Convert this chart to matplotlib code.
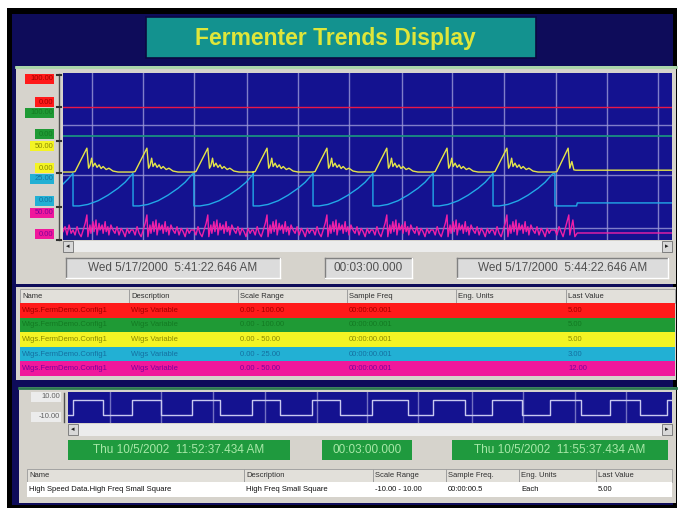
import matplotlib.pyplot as plt
import matplotlib.patches as mpatches
import numpy as np

# ---- data ----
title = 'Fermenter Trends Display'

# upper trend, time in seconds over a 3 minute window
cycle_starts = [2.96, 20.7, 38.7, 56.2, 73.9, 91.6, 109.4, 127.1]
last_start = 145.4

red_t = [0, 180]
red_v = [79.6, 79.6]
green_t = [0, 180]
green_v = [62.3, 62.3]

yellow_pre_t = [0, 2.9]
yellow_pre_v = [40.7, 40.7]
yellow_cyc_t = [0, 0.6, 4.1, 4.6, 5.0, 5.5, 5.9, 6.5, 7.1, 7.7, 8.3, 8.9, 9.8, 10.6, 11.8, 13.3, 17.6]
yellow_cyc_v = [40.7, 41.0, 55.0, 43.0, 44.5, 49.0, 44.0, 46.0, 43.5, 45.0, 42.8, 44.0, 42.2, 43.0, 41.3, 40.7, 40.7]
yellow_tail_t = [0, 0.6, 3.9, 4.4, 5.0, 5.6, 6.2, 34.6]
yellow_tail_v = [40.7, 41.0, 55.0, 43.0, 47.0, 42.0, 41.8, 41.8]

cyan_pre_t = [0, 1.5, 2.9]
cyan_pre_v = [33.5, 36.5, 39.8]
cyan_cyc_t = [0, 0, 1.8, 4.4, 7.4, 10.3, 13.3, 15.4, 17.6]
cyan_cyc_v = [39.8, 20.4, 20.4, 21.3, 23.5, 26.8, 31.0, 34.6, 39.6]
cyan_tail_t = [0, 0, 6.4, 6.6, 34.6]
cyan_tail_v = [39.8, 20.4, 20.4, 22.2, 22.2]

magenta_pre_t = [0, 0.6, 1.2, 1.8, 2.4]
magenta_pre_v = [5, 8, 3, 9, 4]
magenta_cyc_t = [0, 0.6, 1.2, 1.8, 2.4, 3.0, 3.6, 4.1, 4.4, 5.0, 5.3, 5.9, 6.2, 6.8, 7.1, 7.7, 8.0,
                 8.6, 8.9, 9.5, 9.8, 10.3, 10.6, 11.2, 11.8, 12.4, 13.0, 13.6, 14.2, 14.8, 15.4,
                 16.0, 16.6, 17.1]
magenta_cyc_v = [6, 3, 8, 4, 2, 6, 10, 15, 2, 9, 4, 11, 5, 12, 3, 10, 6,
                 9, 4, 11, 5, 8, 3, 9, 6, 4, 8, 3, 7, 5, 2, 7, 4, 6]
magenta_tail_t = [0, 0.6, 1.2, 2.4, 4.1, 4.4, 5.3, 5.9, 6.6, 34.6]
magenta_tail_v = [6, 3, 8, 2, 15, 3, 12, 2, 4.2, 4.2]

pen_colors = ['#ff1a1a', '#1f9a35', '#f4f424', '#22b0d4', '#f0189c']
pen_text = ['#a00000', '#137a22', '#8a8a00', '#1570a0', '#80009a']
line_colors = ['#e81848', '#1a9080', '#e4e44a', '#22a8e8', '#f020a8']

pen_labels = ['100.00', '0.00', '100.00', '0.00', '50.00', '0.00', '25.00', '0.00', '50.00', '0.00']

upper_start = 'Wed 5/17/2000  5:41:22.646 AM'
upper_span = '00:03:00.000'
upper_end = 'Wed 5/17/2000  5:44:22.646 AM'

columns = ['Name', 'Description', 'Scale Range', 'Sample Freq', 'Eng. Units', 'Last Value']
pen_names = ['Wigs.FermDemo.Config1'] * 5
pen_desc = ['Wigs Variable'] * 5
pen_range = ['0.00 - 100.00', '0.00 - 100.00', '0.00 - 50.00', '0.00 - 25.00', '0.00 - 50.00']
pen_freq = ['00:00:00.001'] * 5
pen_units = [''] * 5
pen_last = ['5.00', '5.00', '5.00', '3.00', '12.00']

# lower trend: square wave
sq_t = [0, 1.5, 10.4, 19.1, 27.7, 37.0, 45.3, 54.8, 63.2, 72.7, 81.1, 90.6, 101.3,
        108.8, 118.3, 126.4, 135.3, 143.6, 152.9, 161.5, 170.5, 178.5, 180]
sq_v = [-10, 10, -10, 10, -10, 10, -10, 10, -10, 10, -10, 10, -10,
        10, -10, 10, -10, 10, -10, 10, -10, 10, 10]
lower_labels = ['10.00', '-10.00']
lower_start = 'Thu 10/5/2002  11:52:37.434 AM'
lower_span = '00:03:00.000'
lower_end = 'Thu 10/5/2002  11:55:37.434 AM'
lower_columns = ['Name', 'Description', 'Scale Range', 'Sample Freq.', 'Eng. Units', 'Last Value']
lower_row = ['High Speed Data.High Freq Small Square', 'High Freq Small Square',
             '-10.00 - 10.00', '00:00:00.5', 'Each', '5.00']

# ---- layout helpers (pixels) ----
W, H = 682, 508
plt.rcParams['font.family'] = ['Liberation Sans', 'DejaVu Sans']
NAVY = '#0e0c5a'
PLOT = '#141290'
GRAY = '#d6d3cc'
GRID = '#9c9ad8'

fig = plt.figure(figsize=(W / 100, H / 100), dpi=100)
bg = fig.add_axes([0, 0, 1, 1])
bg.set_xlim(0, W)
bg.set_ylim(H, 0)
bg.axis('off')


def box(x0, y0, x1, y1, fc, ec='none', lw=0, z=1):
    bg.add_patch(mpatches.Rectangle((x0, y0), x1 - x0, y1 - y0, facecolor=fc,
                                    edgecolor=ec, linewidth=lw, zorder=z))


def sunken(x0, y0, x1, y1, fc, z=2):
    box(x0, y0, x1, y1, fc, z=z)
    bg.plot([x0, x1], [y0, y0], color='#808080', lw=1, zorder=z + 1)
    bg.plot([x0, x0], [y0, y1], color='#808080', lw=1, zorder=z + 1)
    bg.plot([x0, x1], [y1, y1], color='#ffffff', lw=1, zorder=z + 1)
    bg.plot([x1, x1], [y0, y1], color='#ffffff', lw=1, zorder=z + 1)


def px_axes(x0, y0, x1, y1):
    a = fig.add_axes([x0 / W, 1 - y1 / H, (x1 - x0) / W, (y1 - y0) / H])
    a.set_facecolor(PLOT)
    a.set_xticks([])
    a.set_yticks([])
    for s in a.spines.values():
        s.set_visible(False)
    return a


def cycles(pre_t, pre_v, cyc_t, cyc_v, tail_t, tail_v):
    t, v = list(pre_t), list(pre_v)
    for s in cycle_starts:
        t += [s + o for o in cyc_t]
        v += list(cyc_v)
    t += [last_start + o for o in tail_t]
    v += list(tail_v)
    return t, v


# ---- frame ----
box(7, 8, 677, 508, '#000000')
box(12, 14, 673, 505, NAVY)
box(146, 17, 536, 58, '#13928f', ec='#0a0a40', lw=1.2, z=2)
bg.text(335, 38, title, ha='center', va='center', fontsize=16.5, fontweight='bold',
        color='#dfe63a', zorder=3)

# ---- upper panel ----
box(16, 66, 676, 284, GRAY, z=2)
bg.plot([16, 676], [66.5, 66.5], color='#a9d6a9', lw=2, zorder=3)

ax = px_axes(63, 73, 672, 240)
ax.set_xlim(0, 180)
ax.set_ylim(0, 100)
for g in [8.6, 23.6, 38.7, 54.4, 69.5, 84.6, 100.3, 115.1, 130.2, 145.8, 160.9, 175.9]:
    ax.axvline(g, color=GRID, lw=1, alpha=0.8)
for g in [68.9, 38.9, 7.2]:
    ax.axhline(g, color=GRID, lw=1, alpha=0.8)
ax.plot(red_t, red_v, color=line_colors[0], lw=1)
ax.plot(green_t, green_v, color=line_colors[1], lw=1.3)
yt, yv = cycles(yellow_pre_t, yellow_pre_v, yellow_cyc_t, yellow_cyc_v, yellow_tail_t, yellow_tail_v)
ax.plot(yt, yv, color=line_colors[2], lw=1)
ct, cv = cycles(cyan_pre_t, cyan_pre_v, cyan_cyc_t, cyan_cyc_v, cyan_tail_t, cyan_tail_v)
ax.plot(ct, cv, color=line_colors[3], lw=1)
mt, mv = cycles(magenta_pre_t, magenta_pre_v, magenta_cyc_t, magenta_cyc_v, magenta_tail_t, magenta_tail_v)
ax.plot(mt, mv, color=line_colors[4], lw=1)

# pen scale labels down the left side
label_rows = [(74, 84), (97, 107), (108, 118), (129, 139), (141, 151),
              (163, 173), (174, 184), (196, 206), (208, 218), (229, 239)]
for i, (txt, (y0, y1)) in enumerate(zip(pen_labels, label_rows)):
    pen = i // 2
    x0 = 53 - 4.6 * len(txt)
    box(x0, y0, 54, y1, pen_colors[pen], z=3)
    bg.text(53, (y0 + y1) / 2, txt, ha='right', va='center', fontsize=5.5,
            color=pen_text[pen], zorder=4)
bg.plot([59, 59], [74, 240], color='#505050', lw=1, zorder=3)
for ty in [75, 107, 141, 173, 207, 240]:
    bg.plot([57, 61], [ty, ty], color='#303030', lw=1.5, zorder=3)

# scrollbar
box(63, 241, 672, 252, '#ececec', z=3)
for xa, arrow in [(63, '\u25c2'), (662, '\u25b8')]:
    box(xa, 241, xa + 10, 252, '#d8d8d8', ec='#707070', lw=0.6, z=4)
    bg.text(xa + 5, 246.5, arrow, ha='center', va='center', fontsize=5, color='#202020', zorder=5)

for (x0, x1), txt in zip([(66, 280), (325, 412), (457, 668)], [upper_start, upper_span, upper_end]):
    sunken(x0, 258, x1, 278, '#dcdcdc', z=3)
    bg.text((x0 + x1) / 2, 268, txt, ha='center', va='center', fontsize=8.5, color='#505050', zorder=5)

# ---- upper table ----
box(16, 287, 676, 380, GRAY, z=2)
col_x = [20, 129, 238, 347, 456, 566, 675]
for i, c in enumerate(columns):
    box(col_x[i], 289, col_x[i + 1], 303, '#e2e0da', ec='#9a9a9a', lw=0.6, z=3)
    bg.text(col_x[i] + 2, 296, c, ha='left', va='center', fontsize=5.5, color='#303030', zorder=4)
row_h = 14.6
for r in range(5):
    y0 = 303 + r * row_h
    box(20, y0, 675, y0 + row_h, pen_colors[r], z=3)
    vals = [pen_names[r], pen_desc[r], pen_range[r], pen_freq[r], pen_units[r], pen_last[r]]
    for i, v in enumerate(vals):
        bg.text(col_x[i] + 2, y0 + row_h / 2, v, ha='left', va='center', fontsize=5.5,
                color=pen_text[r], zorder=4)

# ---- lower panel ----
box(19, 387, 676, 503, GRAY, z=2)
bg.plot([19, 676], [387.5, 387.5], color='#2c7a50', lw=2, zorder=3)
ax2 = px_axes(68, 392, 672, 423)
ax2.set_xlim(0, 180)
ax2.set_ylim(-20, 20)
for g in [12.5, 27.7, 43.2, 58.7, 74.2, 89.1, 104.3, 120.4, 135.6, 151.1, 166.3]:
    ax2.axvline(g, color=GRID, lw=1, alpha=0.7)
ax2.step(sq_t, sq_v, where='post', color='#c8c8f0', lw=1)

for txt, (y0, y1) in zip(lower_labels, [(392, 402), (412, 422)]):
    box(31, y0, 61, y1, '#ececec', z=3)
    bg.text(60, (y0 + y1) / 2, txt, ha='right', va='center', fontsize=5.5, color='#606060', zorder=4)
bg.plot([64, 64], [393, 422], color='#505050', lw=1, zorder=3)

box(68, 424, 672, 436, '#ececec', z=3)
for xa, arrow in [(68, '\u25c2'), (662, '\u25b8')]:
    box(xa, 424, xa + 10, 435, '#d8d8d8', ec='#707070', lw=0.6, z=4)
    bg.text(xa + 5, 429.5, arrow, ha='center', va='center', fontsize=5, color='#202020', zorder=5)

for (x0, x1), txt in zip([(68, 290), (322, 412), (452, 668)], [lower_start, lower_span, lower_end]):
    box(x0, 440, x1, 460, '#1f9a3e', z=3)
    bg.text((x0 + x1) / 2, 450, txt, ha='center', va='center', fontsize=8.5, color='#a8e8a8', zorder=4)

lcol_x = [27, 244, 373, 446, 519, 596, 672]
for i, c in enumerate(lower_columns):
    box(lcol_x[i], 469, lcol_x[i + 1], 482, '#e2e0da', ec='#9a9a9a', lw=0.6, z=3)
    bg.text(lcol_x[i] + 2, 475.5, c, ha='left', va='center', fontsize=5.5, color='#303030', zorder=4)
box(27, 482, 672, 497, '#ffffff', z=3)
for i, v in enumerate(lower_row):
    bg.text(lcol_x[i] + 2, 489.5, v, ha='left', va='center', fontsize=5.5, color='#101010', zorder=4)

fig.savefig('out.png', dpi=100)
